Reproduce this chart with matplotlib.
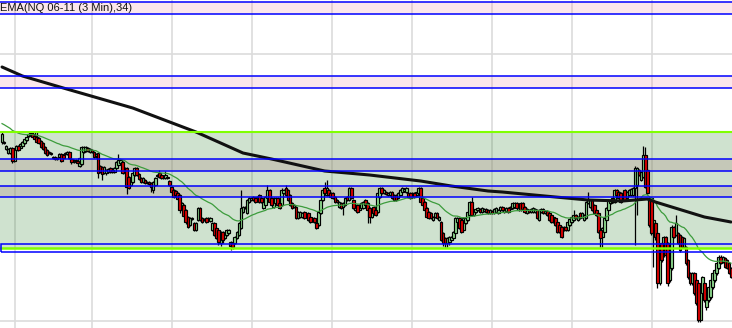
import matplotlib
matplotlib.use("Agg")
import matplotlib.pyplot as plt
from matplotlib.patches import Rectangle
import numpy as np

title = "EMA(NQ 06-11 (3 Min),34)"

opens = [
    858,857,851,847,847,852,839,850,854,852, 854,857,860,864,865,866,864,863,862,859,
    857,853,850,847,846,842,843,841,843,846, 845,846,846,848,841,838,839,839,834,836,
    848,849,852,848,850,848,844,847,834,833, 827,827,828,832,830,828,832,835,837,838,
    829,832,823,815,818,825,832,826,822,818, 820,817,818,817,810,815,824,827,825,822,
    822,822,819,813,810,809,807,805,790,795,
    790,783,775,781,777,770,780,792,782,780, 782,780,779,770,777,772,770,757,768,762,
    765,767,758,757,757,762,765,772,788,793, 787,798,800,803,802,800,805,802,792,795,
    802,810,802,793,797,802,797,795,807,812, 810,805,797,793,793,782,783,783,788,783,
    787,783,780,782,777,775,787,800,812,805, 810,807,807,803,800,793,797,793,795,803,
    800,812,800,790,795,790,792,792,
    800,797,792,783,793,790,788,803,812,807, 808,805,805,808,805,805,802,805,808,809,
    808,807,807,803,807,805,807,812,802,798, 792,788,787,780,783,787,780,778,767,762,
    757,758,760,762,767,778,782,780,770,777, 780,785,798,785,788,790,791,788,789,791,
    790,787,789,787,788,787,790,793,788,789, 792,791,792,793,797,790,797,797,793,787,
    790,788,788,788,790,780,788,791,787,789, 787,785,
    778,782,778,775,773,770,773,770,775,778, 780,785,780,787,783,780,782,797,793,800,
    795,790,787,770,763,768,780,790,797,802, 798,810,808,807,800,810,802,805,805,805,
    812,815,830,820,823,845,830,802,802,767, 777,767,717,757,745,763,757,720,732,773,
    765,767,765,763,753,753,740,727,717,727, 720,717,680,707,717,693,700,703,713,720,
    727,732,743,738,742,740,737,732,
]
highs = [
    868,859,855,852,853,853,852,855,855,857, 859,862,864,867,868,869,868,868,863,860,
    858,854,851,849,848,844,844,843,847,847, 846,848,849,849,842,841,841,840,843,854,
    854,854,853,852,851,849,847,848,835,834, 834,831,832,833,831,833,839,846,841,839,
    833,833,824,823,828,833,833,827,823,823, 821,819,819,818,819,823,826,830,826,825,
    829,824,820,814,811,810,808,806,798,796,
    791,784,783,783,778,778,793,793,783,782, 783,783,783,778,778,773,771,769,769,768,
    771,771,759,758,764,769,778,810,794,794, 801,803,803,804,803,804,806,803,799,804,
    815,811,803,803,803,803,798,812,811,815, 811,806,798,796,794,789,789,788,789,786,
    788,784,783,783,778,789,801,811,818,820, 811,808,808,804,801,799,798,798,803,804,
    813,813,801,796,796,796,798,799,
    801,798,793,791,794,791,808,813,813,811, 809,808,809,809,806,806,808,811,813,812,
    813,808,808,808,808,809,813,813,803,799, 793,789,788,784,788,788,784,779,768,763,
    763,764,764,769,783,783,783,781,783,783, 789,799,803,791,792,793,792,793,792,792,
    791,791,790,792,793,791,794,794,792,793, 793,794,798,798,798,794,798,798,794,792,
    791,792,793,792,791,791,792,792,790,790, 788,786,
    784,783,779,776,774,774,774,779,782,784, 790,786,784,788,788,786,799,808,801,801,
    796,791,788,771,773,783,793,801,801,803, 811,811,809,808,808,811,809,811,812,813,
    834,833,831,829,854,853,831,803,803,781, 778,768,744,758,764,764,758,744,775,774,
    785,768,766,764,763,754,741,728,728,728, 721,718,714,724,718,708,714,721,728,731,
    738,745,745,744,743,741,738,733,
]
lows = [
    856,856,850,846,846,837,838,849,849,851, 853,856,859,863,864,862,860,857,856,852,
    850,846,844,846,845,841,840,840,842,838, 841,845,845,841,836,837,838,836,833,835,
    847,848,848,847,847,842,842,822,827,820, 826,825,827,827,827,827,831,834,836,826,
    826,806,811,814,817,824,824,820,817,817, 816,816,815,808,807,814,823,822,821,821,
    821,821,814,807,802,804,800,787,789,783,
    776,772,774,780,769,769,779,779,777,779, 777,779,778,769,764,761,755,754,757,761,
    764,766,750,751,756,761,764,771,787,791, 786,797,799,799,797,799,797,797,791,794,
    801,797,794,792,796,794,791,794,806,804, 799,794,791,792,781,781,782,782,781,782,
    779,777,779,777,771,774,786,799,806,804, 804,802,801,797,797,792,791,785,794,799,
    799,801,791,789,787,789,791,791,
    794,777,777,782,786,784,787,802,806,806, 805,804,804,801,799,799,801,804,807,808,
    807,802,801,802,802,804,806,797,794,789, 782,781,781,779,782,781,779,759,754,753,
    753,755,759,761,766,777,771,767,769,776, 779,784,784,784,787,789,787,787,788,787,
    786,786,786,786,787,786,789,789,787,788, 787,790,791,792,791,789,789,790,787,786,
    787,787,787,787,781,779,787,786,786,784, 779,777,
    777,774,767,767,762,769,769,769,774,777, 779,781,779,781,782,779,781,796,792,789,
    786,784,767,753,753,767,779,789,796,797, 797,804,801,797,799,799,801,804,804,804,
    755,785,824,819,822,812,805,773,765,733, 760,712,715,738,743,743,714,718,730,762,
    764,756,748,752,752,735,721,715,715,705, 695,678,678,705,698,690,698,701,711,718,
    725,731,736,737,732,731,726,722,
]
closes = [
    866,858,854,851,852,839,851,854,850,856, 858,861,863,866,867,863,861,858,857,853,
    851,847,845,848,847,843,841,842,846,839, 842,847,848,842,838,840,840,837,842,853,
    853,853,849,851,848,843,846,827,828,826, 833,830,831,828,828,832,838,840,840,827,
    830,813,812,822,827,832,825,821,818,822, 817,818,816,813,818,822,825,823,822,824,
    825,823,815,808,803,805,801,790,797,784,
    778,773,782,782,770,777,792,780,778,781, 778,782,782,777,765,762,758,768,760,767,
    770,770,754,753,763,768,777,792,793,792, 800,802,802,800,798,803,798,798,798,803,
    810,798,795,802,802,795,792,810,810,805, 800,795,792,795,782,788,788,787,782,785,
    780,778,782,778,772,788,800,810,807,812, 805,803,802,798,798,798,792,797,802,800,
    812,802,792,795,788,795,797,798,
    795,790,783,790,787,785,807,812,807,810, 806,807,808,802,800,800,807,810,812,811,
    812,803,802,807,803,808,812,798,795,790, 783,782,782,783,787,782,783,760,757,757,
    762,763,763,768,782,782,772,768,782,782, 788,798,785,790,791,792,788,792,791,788,
    787,790,787,791,792,790,793,790,791,792, 788,793,797,797,792,793,790,791,788,791,
    788,791,792,791,782,790,791,787,789,785, 780,778,
    783,775,768,768,763,773,770,778,781,783, 785,782,783,782,787,785,798,800,800,790,
    787,785,768,762,772,782,792,800,800,798, 810,805,802,798,807,800,808,810,811,812,
    832,832,825,828,845,813,807,775,767,780, 763,717,743,740,763,745,717,743,773,763,
    777,757,750,753,762,737,723,717,727,707, 697,680,713,723,700,707,713,720,727,730,
    737,743,737,743,733,732,727,723,
]

ema34_seed = 877
ema_long_bars = [0, 10, 30, 64, 95, 118, 132, 158, 180, 205, 220, 238, 245, 271, 287, 304, 316, 320, 336, 344, 357]
ema_long_vals = [933, 924, 912, 892, 868, 847, 841, 829, 825, 819, 814, 809, 808, 803, 800, 799, 801, 798, 788, 783, 778]

time_grid_bars = [6.35, 44.05, 83.2, 122.4, 161.6, 200.8, 239.9, 279.1, 318.3]
price_grid_levels = [946, 679]
pink_zones = [(985.7, 997.7), (911.7, 923.7)]
gray_zones = [(828.7, 840.7), (802.7, 813.7)]
green_zone = (751.7, 867.7)
bottom_zone = (747.7, 755.7)

n = len(closes)
x = np.arange(n)

fig = plt.figure(figsize=(7.32, 3.28), dpi=100)
ax = fig.add_axes([0, 0, 1, 1])
ax.set_xlim(-1, n - 0.5)
ax.set_ylim(672, 1000)
ax.set_axis_off()

# grid
for gx in time_grid_bars:
    ax.axvline(gx, color="#dcdcdc", lw=1.2, zorder=0)
for gy in price_grid_levels:
    ax.axhline(gy, color="#dcdcdc", lw=1.2, zorder=0)

# zones
for lo, hi in pink_zones:
    ax.axhspan(lo, hi, color=(0.934, 0.499, 0.586), alpha=0.18, lw=0, zorder=1)
    ax.axhline(lo, color="#0000ff", lw=1.1, zorder=7)
    ax.axhline(hi, color="#0000ff", lw=1.1, zorder=7)
ax.axhspan(green_zone[0], green_zone[1], color=(15/255, 110/255, 15/255), alpha=0.2, lw=0, zorder=1)
for lo, hi in gray_zones:
    ax.axhspan(lo, hi, color=(0.70, 0.58, 0.55), alpha=0.33, lw=0, zorder=1.5)
    ax.axhline(lo, color="#0000ff", lw=1.1, zorder=7)
    ax.axhline(hi, color="#0000ff", lw=1.1, zorder=7)
ax.axhline(green_zone[1], color="#80ff00", lw=1.5, zorder=7)
ax.axhline(green_zone[0], color="#80ff00", lw=1.8, zorder=7)
ax.add_patch(Rectangle((-0.55, bottom_zone[0]), n + 5, bottom_zone[1] - bottom_zone[0],
                       fill=False, edgecolor="#0000ff", lw=1.1, zorder=7))

# candles
o = np.array(opens, float)
c = np.array(closes, float)
h = np.array(highs, float)
l = np.array(lows, float)
up = c >= o
ax.vlines(x, l, h, color="black", lw=0.9, zorder=3)
body_h = np.maximum(np.abs(c - o), 0.8)
ax.bar(x[up], body_h[up], bottom=np.minimum(o, c)[up], width=1.3,
       color="#8fdc8f", edgecolor="black", linewidth=0.85, zorder=4)
ax.bar(x[~up], body_h[~up], bottom=np.minimum(o, c)[~up], width=1.3,
       color="#e00000", edgecolor="black", linewidth=0.85, zorder=4)

# EMA(34) of closes
ema = []
prev = ema34_seed
for val in closes:
    prev = prev + (val - prev) * 2.0 / 35.0
    ema.append(prev)
ax.plot(x, ema, color="#3c9c3c", lw=0.9, zorder=5)

# long EMA
ax.plot(ema_long_bars, ema_long_vals, color="#111111", lw=2.2, zorder=6,
        solid_capstyle="round", solid_joinstyle="round")

ax.text(0.0, 991.7, title, transform=ax.get_yaxis_transform(), fontsize=8.0,
        family=["Liberation Sans", "DejaVu Sans"], color="#111111",
        ha="left", va="center", zorder=8)

fig.savefig("out.png", dpi=100)
